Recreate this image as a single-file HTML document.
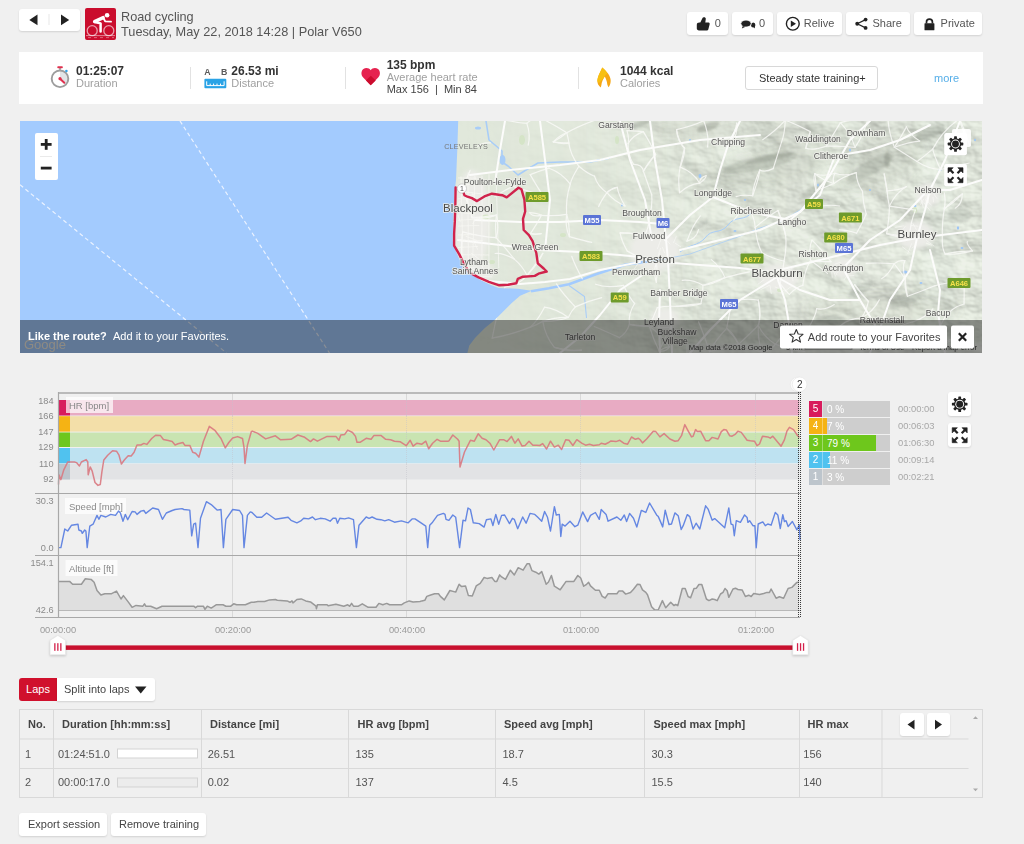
<!DOCTYPE html>
<html><head><meta charset="utf-8">
<style>
*{box-sizing:border-box;margin:0;padding:0}
html,body{width:1024px;height:844px;overflow:hidden;background:#f0f0f0;font-family:"Liberation Sans",sans-serif;color:#333}
.abs{position:absolute}
.btn{position:absolute;background:#fff;border-radius:3px;box-shadow:0 1px 2px rgba(0,0,0,.13);font-size:12px;color:#444;white-space:nowrap}
.sep{position:absolute;width:1px;background:#ddd}
.val{position:absolute;font-size:13px;font-weight:bold;color:#333;white-space:nowrap}
.lbl{position:absolute;font-size:11px;color:#999;white-space:nowrap}
.zt{position:absolute;left:809px;width:81px;height:16px;background:#cecece}
.zt .n{position:absolute;left:0;top:0;width:13px;height:16px;color:#fff;font-size:10px;line-height:16px;text-align:center}
.zt .b{position:absolute;left:13px;top:0;height:16px}
.zt .p{position:absolute;left:18px;top:.5px;color:#fff;font-size:10px;line-height:16px;white-space:nowrap}
.zt .s{position:absolute;left:13px;top:0;width:1px;height:16px;background:rgba(255,255,255,.35)}
.ztime{position:absolute;left:898px;font-size:9.4px;color:#a8a8a8;line-height:16px}
table{position:absolute;border-collapse:collapse;font-size:11px;color:#444}
</style></head>
<body>
<svg width="0" height="0" style="position:absolute">
<defs>
<g id="gear">
<g fill="#222">
<rect x="-1.4" y="-7.8" width="2.8" height="3.6" rx=".6"/>
<rect x="-1.4" y="-7.8" width="2.8" height="3.6" rx=".6" transform="rotate(45)"/>
<rect x="-1.4" y="-7.8" width="2.8" height="3.6" rx=".6" transform="rotate(90)"/>
<rect x="-1.4" y="-7.8" width="2.8" height="3.6" rx=".6" transform="rotate(135)"/>
<rect x="-1.4" y="-7.8" width="2.8" height="3.6" rx=".6" transform="rotate(180)"/>
<rect x="-1.4" y="-7.8" width="2.8" height="3.6" rx=".6" transform="rotate(225)"/>
<rect x="-1.4" y="-7.8" width="2.8" height="3.6" rx=".6" transform="rotate(270)"/>
<rect x="-1.4" y="-7.8" width="2.8" height="3.6" rx=".6" transform="rotate(315)"/>
<circle r="5.7"/>
</g>
<circle r="4.4" fill="#fff"/>
<circle r="3.45" fill="#222"/>
</g>
<g id="expand" fill="#222" stroke="#222">
<g id="ar"><path d="M-7.5,-7.5 L-2.3,-7.5 L-7.5,-2.3 Z" stroke-width=".6" stroke-linejoin="round"/><line x1="-5.8" y1="-5.8" x2="-2" y2="-2" stroke-width="2.2"/></g>
<use href="#ar" transform="rotate(90)"/>
<use href="#ar" transform="rotate(180)"/>
<use href="#ar" transform="rotate(270)"/>
</g>
</defs>
</svg>
<!-- header -->
<div class="btn" style="left:19px;top:9px;width:61px;height:22px"></div>
<div class="abs" style="left:85px;top:8.3px;width:31.2px;height:31.4px;background:#ca0d2d;border-radius:2px"></div>
<div class="btn" style="left:687px;top:12px;width:41px;height:23px"></div>
<div class="btn" style="left:732px;top:12px;width:41px;height:23px"></div>
<div class="btn" style="left:777px;top:12px;width:65px;height:23px"></div>
<div class="btn" style="left:846px;top:12px;width:64px;height:23px"></div>
<div class="btn" style="left:914px;top:12px;width:68px;height:23px"></div>
<div class="abs" style="left:19px;top:52px;width:964px;height:52px;background:#fff"></div>
<div class="abs" style="left:745px;top:66px;width:133px;height:24px;border:1px solid #d8d8d8;border-radius:3px;background:#fff"></div>
<svg class="abs" style="left:0;top:0" width="1024" height="110">
<!-- nav arrows -->
<path d="M29.3,19.9 L37.5,14.6 L37.5,25.2 Z" fill="#222"/>
<rect x="48.5" y="14" width="1" height="11" fill="#e8e8e8"/>
<path d="M69.2,19.9 L61,14.6 L61,25.2 Z" fill="#222"/>
<!-- sport icon -->
<g transform="translate(85,8)">
<circle cx="7.2" cy="22.7" r="5" fill="none" stroke="#fff" stroke-width="1.3" opacity=".6"/>
<circle cx="23.8" cy="22.7" r="5" fill="none" stroke="#fff" stroke-width="1.3" opacity=".6"/>
<circle cx="22.1" cy="7.2" r="2.3" fill="#fff"/>
<path d="M9.6,13.6 L18.2,9.6" stroke="#fff" stroke-width="3.4" stroke-linecap="round"/>
<path d="M18.4,10 L20.2,13.4 L26,13.6" fill="none" stroke="#fff" stroke-width="1.9" stroke-linecap="round" stroke-linejoin="round"/>
<path d="M9.8,14 L15.6,15.4 L15.6,23.4" fill="none" stroke="#fff" stroke-width="2.5" stroke-linecap="round" stroke-linejoin="round"/>
<rect x="1" y="27.2" width="29" height=".9" fill="#fff" opacity=".55"/>
<path d="M3,29.6 h3 M9,29.6 h3 M15,29.6 h3 M21,29.6 h3 M27,29.6 h2" stroke="#fff" stroke-width=".8" opacity=".45"/>
</g>
<g font-family="Liberation Sans" fill="#555">
<text x="121" y="20.8" font-size="12.7">Road cycling</text>
<text x="121" y="36.4" font-size="12.75">Tuesday, May 22, 2018 14:28 | Polar V650</text>
</g>
<!-- like -->
<path d="M696.8,24.8 C696.8,23.4 697.8,22.6 699.3,22.6 L700.3,22.6 L702.4,18.2 C703,16.8 705.9,16.8 705.8,18.8 L705.3,22.4 L708.6,22.4 C709.6,22.4 709.9,23.4 709.6,24.4 L708.3,29.5 C708.1,30.1 707.6,30.4 706.9,30.4 L699,30.4 C697.6,30.4 696.8,29.5 696.8,28.5 Z" fill="#222"/>
<!-- comment -->
<ellipse cx="753.2" cy="25" rx="2.2" ry="2.6" fill="#222"/><path d="M753.5,27 L755,28.6 L754.8,26 Z" fill="#222"/>
<ellipse cx="746" cy="23.6" rx="5.2" ry="3.5" fill="#222" stroke="#fff" stroke-width=".8"/><path d="M742.8,26 L741.8,28.4 L745.5,26.8 Z" fill="#222"/>
<!-- relive -->
<circle cx="792.8" cy="23.75" r="6.4" fill="none" stroke="#222" stroke-width="1.4"/><path d="M790.8,20.4 L796,23.75 L790.8,27.1 Z" fill="#222"/>
<!-- share -->
<path d="M857.2,23.75 L865.6,19.6 M857.2,23.75 L865.6,27.9" stroke="#222" stroke-width="1.2"/>
<circle cx="857.2" cy="23.75" r="1.9" fill="#222"/><circle cx="865.6" cy="19.6" r="1.9" fill="#222"/><circle cx="865.6" cy="27.9" r="1.9" fill="#222"/>
<!-- lock -->
<rect x="924.5" y="23.3" width="9.9" height="6.9" rx=".5" fill="#222"/><path d="M926.5,23.5 L926.5,21.9 C926.5,18.3 932.4,18.3 932.4,21.9 L932.4,23.5" fill="none" stroke="#222" stroke-width="1.7"/>
<g font-family="Liberation Sans" font-size="11" fill="#555">
<text x="714.7" y="27.3">0</text><text x="759" y="27.3">0</text>
<text x="803.7" y="27.3">Relive</text><text x="872.5" y="27.3">Share</text><text x="940.6" y="27.3">Private</text>
</g>
<!-- summary -->
<rect x="190" y="67" width="1" height="22" fill="#e2e2e2"/>
<rect x="345" y="67" width="1" height="22" fill="#e2e2e2"/>
<rect x="578" y="67" width="1" height="22" fill="#e2e2e2"/>
<!-- stopwatch -->
<path d="M60,78.8 L60,70.4 A8.4,8.4 0 0 1 65.9,84.7 Z" fill="#e2e4e6"/>
<circle cx="60" cy="78.8" r="8.3" fill="none" stroke="#9d9d9d" stroke-width="1.9"/>
<rect x="59" y="68" width="2" height="2.3" fill="#aaa"/>
<rect x="57.3" y="66.3" width="5.5" height="2" rx=".8" fill="#e0304e"/>
<circle cx="66.4" cy="71" r="1.3" fill="#36a6ea"/>
<path d="M60,78.8 L64.3,82.8" stroke="#e0304e" stroke-width="2" stroke-linecap="round"/>
<circle cx="60" cy="78.7" r="1.6" fill="#e0304e"/>
<!-- distance icon -->
<g font-family="Liberation Sans" font-size="8.8" font-weight="bold" fill="#5a5a5a"><text x="204.2" y="74.5">A</text><text x="221" y="74.5">B</text></g>
<rect x="204.4" y="78.7" width="21.9" height="9.6" rx="1" fill="#2aa3e6"/>
<path d="M206.7,81.3 L206.7,85.6 L224.1,85.6 L224.1,81.3 M210.2,85.6 L210.2,83.6 M213.6,85.6 L213.6,83.6 M217,85.6 L217,83.6 M220.5,85.6 L220.5,83.6" fill="none" stroke="#fff" stroke-width="1"/>
<!-- heart -->
<path d="M370.7,85.3 L363.2,77.6 C360.8,75.1 360.9,71 363.4,69 C365.9,67.1 369.2,67.9 370.7,70.3 C372.2,67.9 375.5,67.1 378,69 C380.5,71 380.6,75.1 378.2,77.6 Z" fill="#e6224f"/>
<path d="M370.7,85.3 L366,80.4 L370.8,75.8 L375.7,80.4 Z" fill="#cb0c2e"/>
<!-- flame -->
<path d="M602.2,67.5 C606.2,71 610.9,75.8 610.7,81 C610.6,84 609.6,86 608.4,87.3 L607.3,84.5 C607,81.2 605.8,78.6 604.7,76.6 C603.3,79 601.6,82 601.4,85 L600.8,87.4 C598.4,85.6 597.3,83.5 597.4,81 C597.5,76 600.6,72 602.2,67.5 Z" fill="#f6a715"/>
<path d="M602.2,67.5 C604.5,69.5 606.5,71.5 607.5,73.5 C606,74.5 605.2,75.5 604.7,76.6 C603.3,79 601.2,81 599,83 C598,82 597.3,81.5 597.4,81 C597.5,76 600.6,72 602.2,67.5 Z" fill="#f7c012"/>
<g font-family="Liberation Sans" font-weight="bold" font-size="12" fill="#333">
<text x="76" y="75">01:25:07</text>
<text x="231.3" y="75">26.53 mi</text>
<text x="386.7" y="69.2">135 bpm</text>
<text x="620" y="75">1044 kcal</text>
</g>
<g font-family="Liberation Sans" font-size="11" fill="#a0a0a0">
<text x="76" y="86.8">Duration</text>
<text x="231.3" y="86.8">Distance</text>
<text x="386.7" y="81.4">Average heart rate</text>
<text x="620" y="86.8">Calories</text>
</g>
<text x="386.7" y="93" font-family="Liberation Sans" font-size="11" fill="#444" xml:space="preserve">Max 156  |  Min 84</text>
<text x="759" y="81.9" font-family="Liberation Sans" font-size="11" fill="#333">Steady state training+</text>
<text x="934" y="81.6" font-family="Liberation Sans" font-size="11" fill="#55aee8">more</text>
</svg>

<!-- map -->
<svg class="abs" style="left:20px;top:121px" width="962" height="232" viewBox="20 121 962 232">
<defs>
<filter id="bl" x="-50%" y="-50%" width="200%" height="200%"><feGaussianBlur stdDeviation="5"/></filter>
<filter id="bl2" x="-50%" y="-50%" width="200%" height="200%"><feGaussianBlur stdDeviation="2.5"/></filter>
<filter id="bl1" x="-50%" y="-50%" width="200%" height="200%"><feGaussianBlur stdDeviation="1.2"/></filter>
<filter id="terrain" x="0" y="0" width="100%" height="100%" color-interpolation-filters="sRGB">
  <feTurbulence type="fractalNoise" baseFrequency="0.014 0.022" numOctaves="5" seed="7" result="noise"/>
  <feDiffuseLighting in="noise" surfaceScale="7" lighting-color="#f3f8f0" diffuseConstant="1.12" result="light">
    <feDistantLight azimuth="315" elevation="52"/>
  </feDiffuseLighting>
</filter>
<linearGradient id="tg" x1="0" y1="0" x2="1" y2="0">
<stop offset="0" stop-color="#fff" stop-opacity="0"/><stop offset=".25" stop-color="#fff" stop-opacity=".15"/><stop offset=".5" stop-color="#fff" stop-opacity=".6"/><stop offset="1" stop-color="#fff" stop-opacity=".8"/>
</linearGradient>
<mask id="tm"><rect x="450" y="121" width="532" height="232" fill="url(#tg)"/></mask>
</defs>
<rect x="20" y="121" width="962" height="232" fill="#a3cbfe"/>
<g stroke="#eaf2ff" stroke-width="1.2" stroke-dasharray="4 3"><line x1="20" y1="184.8" x2="226.5" y2="353"/><line x1="180" y1="121" x2="329.5" y2="353"/></g>
<polygon points="458.2,121 457.3,150 456,180 454.3,195 453.5,215 452.7,240 453.7,245.9 459.5,259.5 466.4,269.3 477.1,278.1 490.8,284.9 498.6,287.9 518.1,288.8 531.8,290.8 520.1,295.7 512.3,302.5 502.5,312.3 494.7,320 484.9,327.9 475.2,337.7 469.3,345.5 467.3,353.3 982,353 982,121" fill="#e1e8db"/>
<clipPath id="lc"><polygon points="458.2,121 457.3,150 456,180 454.3,195 453.5,215 452.7,240 453.7,245.9 459.5,259.5 466.4,269.3 477.1,278.1 490.8,284.9 498.6,287.9 518.1,288.8 531.8,290.8 520.1,295.7 512.3,302.5 502.5,312.3 494.7,320 484.9,327.9 475.2,337.7 469.3,345.5 467.3,353.3 982,353 982,121"/></clipPath>
<g clip-path="url(#lc)"><rect x="450" y="121" width="532" height="232" filter="url(#terrain)" mask="url(#tm)" style="mix-blend-mode:multiply" opacity=".5"/></g>
<g clip-path="url(#lc)"><g filter="url(#bl2)" fill="#ecece8"><ellipse cx="472" cy="220" rx="18" ry="50"/><ellipse cx="478" cy="272" rx="16" ry="10"/><ellipse cx="655" cy="250" rx="25" ry="22"/><ellipse cx="778" cy="278" rx="20" ry="14"/><ellipse cx="915" cy="235" rx="18" ry="14"/><ellipse cx="928" cy="195" rx="12" ry="12"/><ellipse cx="843" cy="268" rx="14" ry="10"/><ellipse cx="665" cy="320" rx="14" ry="12"/></g></g>
<g filter="url(#bl)" fill="#7c8276"><ellipse cx="770" cy="168" rx="60" ry="20" transform="rotate(-10 770 168)" opacity=".12"/><ellipse cx="880" cy="165" rx="45" ry="22" transform="rotate(-25 880 165)" opacity=".12"/><ellipse cx="700" cy="130" rx="50" ry="12" opacity=".1"/><ellipse cx="880" cy="310" rx="80" ry="18" opacity=".08"/></g>
<g filter="url(#bl1)">
<ellipse cx="708" cy="127" rx="12" ry="4" transform="rotate(-20 708 127)" fill="#7c8276" opacity="0.35"/>
<ellipse cx="760" cy="163" rx="38" ry="7" transform="rotate(-12 760 163)" fill="#7c8276" opacity="0.25"/>
<ellipse cx="770" cy="158" rx="25" ry="3" transform="rotate(-12 770 158)" fill="#7c8276" opacity="0.3"/>
<ellipse cx="870" cy="168" rx="26" ry="7" transform="rotate(-28 870 168)" fill="#7c8276" opacity="0.25"/>
<ellipse cx="887" cy="160" rx="3" ry="8" transform="rotate(0 887 160)" fill="#7c8276" opacity="0.4"/>
<ellipse cx="640" cy="124" rx="10" ry="3" transform="rotate(-20 640 124)" fill="#7c8276" opacity="0.3"/>
<ellipse cx="930" cy="133" rx="15" ry="6" transform="rotate(-20 930 133)" fill="#7c8276" opacity="0.25"/>
<ellipse cx="815" cy="190" rx="18" ry="4" transform="rotate(-30 815 190)" fill="#7c8276" opacity="0.25"/>
<ellipse cx="905" cy="300" rx="20" ry="6" transform="rotate(-20 905 300)" fill="#7c8276" opacity="0.2"/>
<ellipse cx="860" cy="290" rx="14" ry="5" transform="rotate(-30 860 290)" fill="#7c8276" opacity="0.2"/>
<ellipse cx="700" cy="225" rx="10" ry="3" transform="rotate(-30 700 225)" fill="#7c8276" opacity="0.2"/>
<ellipse cx="960" cy="215" rx="12" ry="8" transform="rotate(0 960 215)" fill="#7c8276" opacity="0.2"/>
<ellipse cx="830" cy="320" rx="15" ry="5" transform="rotate(0 830 320)" fill="#7c8276" opacity="0.2"/>
</g>
<g fill="#d2e4c2" opacity=".8"><ellipse cx="486" cy="217" rx="4" ry="2.5"/><ellipse cx="522" cy="140" rx="3" ry="5"/><ellipse cx="563" cy="235" rx="3" ry="2"/><ellipse cx="492" cy="262" rx="3" ry="2"/><ellipse cx="617" cy="140" rx="2" ry="4"/><ellipse cx="780" cy="290" rx="3" ry="2"/><ellipse cx="915" cy="210" rx="2" ry="3"/></g>
<ellipse cx="915" cy="206" rx="1.5" ry="1" fill="#9fc6f5"/>
<ellipse cx="958" cy="228" rx="1.2" ry="1.8" fill="#9fc6f5"/>
<ellipse cx="962" cy="248" rx="1.5" ry="1" fill="#9fc6f5"/>
<ellipse cx="905" cy="272" rx="2.5" ry="1.5" fill="#9fc6f5"/>
<ellipse cx="921" cy="283" rx="1.5" ry="1" fill="#9fc6f5"/>
<ellipse cx="700" cy="176" rx="1.5" ry="2" fill="#9fc6f5"/>
<ellipse cx="735" cy="231" rx="1.5" ry="1" fill="#9fc6f5"/>
<ellipse cx="818" cy="185" rx="1" ry="1.5" fill="#9fc6f5"/>
<ellipse cx="760" cy="254" rx="1.2" ry="1" fill="#9fc6f5"/>
<ellipse cx="870" cy="190" rx="1" ry="1" fill="#9fc6f5"/>
<ellipse cx="940" cy="170" rx="1.5" ry="1" fill="#9fc6f5"/>
<ellipse cx="690" cy="140" rx="1" ry="1" fill="#9fc6f5"/>
<ellipse cx="598" cy="160" rx="1.5" ry="1" fill="#9fc6f5"/>
<ellipse cx="622" cy="205" rx="1" ry="1.5" fill="#9fc6f5"/>
<ellipse cx="745" cy="200" rx="1.2" ry="1" fill="#9fc6f5"/>
<ellipse cx="850" cy="150" rx="1" ry="1.5" fill="#9fc6f5"/>
<ellipse cx="975" cy="140" rx="1" ry="1.2" fill="#9fc6f5"/>
<path d="M752,212 C745,222 735,215 728,225 C720,235 712,228 705,238 C698,246 690,244 680,252" fill="none" stroke="#a8cdf8" stroke-width="1"/>
<path d="M486,121 L489,140 L495,145 L502,151 L502,162 L508,166 L518,175 L526,170 L538,163 L560,162 L590,162 L610,158" fill="none" stroke="#a8cdf8" stroke-width="1.6" stroke-linejoin="round"/>
<ellipse cx="502.5" cy="160" rx="3" ry="5" fill="#a8cdf8"/><ellipse cx="478" cy="128" rx="3" ry="1.5" fill="#a8cdf8"/>
<path d="M531,291.3 L549,288.3 L569,284.3 L596,274.3 L625,264.8 L642,262.3 L660,260" fill="none" stroke="#a3cbfe" stroke-width="2.6" stroke-linejoin="round"/>
<path d="M569,285.5 L584.5,296.6 L586.5,318" fill="none" stroke="#a8cdf8" stroke-width="1.1"/>
<path d="M660,260 L690,254 L715,245 L735,238 L760,228 L780,222 L800,210 L815,195" fill="none" stroke="#b0d0f2" stroke-width=".9"/>
<g fill="none" stroke="#fcfcfb" stroke-width="2" stroke-linejoin="round" stroke-linecap="round" clip-path="url(#lc)">
<path d="M475,220 L520,222 L560,222 L600,220 L640,222 L662,224"/>
<path d="M650,121 L655,160 L662,200 L665,230 L668,260 L670,300 L672,353"/>
<path d="M620,121 L630,160 L645,200 L652,240"/>
<path d="M458,240 L500,245 L540,250 L580,252 L620,255 L650,258"/>
<path d="M470,175 L510,170 L560,165 L600,160 L640,150 L700,140 L760,135"/>
<path d="M660,262 L700,265 L740,268 L770,272 L800,265 L840,255 L880,245 L917,238 L982,230"/>
<path d="M665,240 L690,215 L713,197"/>
<path d="M713,197 L750,212 L790,220 L820,195 L835,156"/>
<path d="M680,250 L720,240 L760,230 L800,212 L830,175 L850,140 L870,121"/>
<path d="M917,238 L925,210 L930,190 L945,160 L960,121"/>
<path d="M777,277 L785,300 L790,330 L792,353"/>
<path d="M917,238 L910,270 L890,300 L882,323 L870,353"/>
<path d="M930,250 L940,290 L938,313 L945,353"/>
<path d="M843,268 L860,300 L875,325"/>
<path d="M660,290 L659,322 L660,353"/>
<path d="M650,270 L620,290 L600,315 L580,337 L560,353"/>
<path d="M777,277 L740,300 L710,330 L690,353"/>
<path d="M478,280 L520,284 L545,282 L570,279 L600,270 L640,262"/>
<path d="M713,197 L720,170 L728,145 L740,121"/>
<path d="M835,156 L870,150 L900,140 L930,125"/>
<path d="M540,121 L545,160 L550,200 L545,250"/>
<path d="M495,183 L500,150 L505,121"/>
<path d="M843,268 L870,240 L900,220 L928,190"/>
<path d="M777,277 L800,290 L830,300 L860,300"/>
<path d="M982,180 L950,190 L928,190"/>
</g>
<g fill="none" stroke="#fbfbf9" stroke-width="1.2" opacity=".8" stroke-linecap="round" clip-path="url(#lc)">
<path d="M477.6,146.5 Q481.5,142.3 490.4,142.9"/>
<path d="M470.1,170.4 Q463.7,184.4 464.3,191.2"/>
<path d="M464.3,191.2 Q468.1,204.6 472.3,217.7"/>
<path d="M472.3,217.7 Q485.9,219.2 496.3,215.2"/>
<path d="M472.3,217.7 Q468.0,206.4 464.3,191.2"/>
<path d="M462.7,231.9 Q460.0,247.0 462.6,262.0"/>
<path d="M462.7,231.9 Q482.5,237.1 496.0,237.6"/>
<path d="M496.5,118.0 Q514.9,122.6 526.8,123.4"/>
<path d="M496.3,215.2 Q494.9,226.2 496.0,237.6"/>
<path d="M496.3,215.2 Q483.2,217.6 472.3,217.7"/>
<path d="M496.0,237.6 Q499.7,227.8 496.3,215.2"/>
<path d="M496.0,237.6 Q506.4,248.9 514.3,259.1"/>
<path d="M492.2,338.1 Q512.2,334.5 530.4,327.1"/>
<path d="M492.2,338.1 Q497.8,308.9 505.0,286.9"/>
<path d="M526.8,123.4 Q532.8,117.5 540.8,118.0"/>
<path d="M526.8,123.4 Q530.8,134.7 528.2,145.2"/>
<path d="M530.2,174.6 Q537.1,186.7 542.4,194.7"/>
<path d="M513.0,186.4 Q507.4,188.7 494.9,196.5"/>
<path d="M513.0,186.4 Q527.7,191.4 542.4,194.7"/>
<path d="M529.4,212.5 Q538.9,213.3 541.4,215.3"/>
<path d="M530.6,233.4 Q534.2,234.8 541.1,233.7"/>
<path d="M530.6,233.4 Q537.7,222.7 541.4,215.3"/>
<path d="M514.3,259.1 Q502.7,252.6 495.2,253.5"/>
<path d="M514.3,259.1 Q522.7,266.3 527.0,275.3"/>
<path d="M527.0,275.3 Q519.9,284.7 505.0,286.9"/>
<path d="M527.0,275.3 Q538.2,263.8 542.8,253.3"/>
<path d="M530.4,327.1 Q537.6,320.6 544.5,307.2"/>
<path d="M540.8,118.0 Q554.8,125.0 566.8,132.8"/>
<path d="M553.3,141.8 Q557.5,142.7 568.8,143.1"/>
<path d="M553.3,141.8 Q559.6,138.7 566.8,132.8"/>
<path d="M549.1,168.2 Q540.3,170.7 530.2,174.6"/>
<path d="M541.4,215.3 Q532.3,217.1 529.4,212.5"/>
<path d="M541.1,233.7 Q534.0,235.0 530.6,233.4"/>
<path d="M542.8,253.3 Q532.9,268.2 527.0,275.3"/>
<path d="M556.5,283.9 Q562.4,293.5 575.3,306.9"/>
<path d="M544.5,307.2 Q556.7,308.9 568.3,317.5"/>
<path d="M542.8,321.3 Q538.0,324.6 530.4,327.1"/>
<path d="M542.8,321.3 Q555.4,317.1 568.3,317.5"/>
<path d="M554.4,347.3 Q569.8,351.4 581.4,350.1"/>
<path d="M554.4,347.3 Q545.5,336.8 542.8,321.3"/>
<path d="M566.8,132.8 Q559.5,135.4 553.3,141.8"/>
<path d="M568.8,143.1 Q569.1,141.9 566.8,132.8"/>
<path d="M568.8,143.1 Q561.5,144.5 553.3,141.8"/>
<path d="M578.9,166.3 Q571.4,178.2 570.3,184.2"/>
<path d="M578.9,166.3 Q570.5,155.2 568.8,143.1"/>
<path d="M570.3,184.2 Q561.9,172.8 549.1,168.2"/>
<path d="M566.6,214.3 Q569.3,222.1 569.4,236.6"/>
<path d="M566.6,214.3 Q555.8,216.4 541.4,215.3"/>
<path d="M566.6,214.3 Q565.6,198.1 570.3,184.2"/>
<path d="M569.4,236.6 Q564.9,227.1 566.6,214.3"/>
<path d="M582.3,278.7 Q575.5,266.7 571.7,256.3"/>
<path d="M575.3,306.9 Q587.4,301.2 601.7,297.7"/>
<path d="M568.3,317.5 Q571.0,311.3 575.3,306.9"/>
<path d="M568.3,317.5 Q556.1,321.8 542.8,321.3"/>
<path d="M581.4,350.1 Q569.9,351.7 554.4,347.3"/>
<path d="M595.5,120.0 Q577.3,126.6 566.8,132.8"/>
<path d="M594.5,176.2 Q587.1,173.5 578.9,166.3"/>
<path d="M594.5,176.2 Q597.4,186.3 606.9,192.7"/>
<path d="M606.9,192.7 Q613.2,187.1 617.3,187.3"/>
<path d="M598.6,206.7 Q600.5,201.8 606.9,192.7"/>
<path d="M591.7,242.4 Q584.3,240.9 569.4,236.6"/>
<path d="M628.1,143.5 Q629.5,141.0 627.1,130.6"/>
<path d="M628.1,143.5 Q633.0,135.2 643.3,131.6"/>
<path d="M633.5,164.3 Q642.2,164.2 643.4,171.2"/>
<path d="M633.5,164.3 Q627.7,155.1 628.1,143.5"/>
<path d="M617.3,187.3 Q608.6,189.7 606.9,192.7"/>
<path d="M625.0,206.0 Q618.0,194.1 617.3,187.3"/>
<path d="M625.0,206.0 Q613.8,201.0 606.9,192.7"/>
<path d="M620.2,232.9 Q621.2,240.3 627.3,251.1"/>
<path d="M620.2,232.9 Q634.3,232.8 644.4,235.7"/>
<path d="M627.3,251.1 Q644.9,260.6 656.3,263.4"/>
<path d="M623.5,285.3 Q629.5,298.0 634.6,303.5"/>
<path d="M623.5,285.3 Q606.0,288.3 595.6,284.2"/>
<path d="M629.4,324.4 Q643.3,326.4 649.3,326.0"/>
<path d="M629.4,324.4 Q628.1,313.7 634.6,303.5"/>
<path d="M619.5,337.6 Q626.9,332.7 629.4,324.4"/>
<path d="M619.5,337.6 Q604.1,330.6 594.2,326.5"/>
<path d="M643.3,131.6 Q638.1,131.2 627.1,130.6"/>
<path d="M655.6,154.4 Q649.8,160.0 643.4,171.2"/>
<path d="M655.6,154.4 Q652.0,145.8 643.3,131.6"/>
<path d="M643.4,171.2 Q647.7,164.5 655.6,154.4"/>
<path d="M643.4,171.2 Q647.4,182.7 651.7,194.7"/>
<path d="M648.7,221.0 Q648.9,227.7 644.4,235.7"/>
<path d="M648.7,221.0 Q652.8,205.5 651.7,194.7"/>
<path d="M644.4,235.7 Q634.9,232.8 620.2,232.9"/>
<path d="M656.3,263.4 Q652.9,271.3 656.3,282.3"/>
<path d="M656.3,282.3 Q657.8,269.7 656.3,263.4"/>
<path d="M649.3,326.0 Q638.4,326.8 629.4,324.4"/>
<path d="M649.3,326.0 Q653.8,316.5 657.3,307.6"/>
<path d="M649.3,326.0 Q663.9,328.9 670.5,327.0"/>
<path d="M659.2,350.9 Q665.3,347.1 669.5,346.6"/>
<path d="M659.2,350.9 Q665.2,337.4 670.5,327.0"/>
<path d="M659.2,350.9 Q653.4,339.8 649.3,326.0"/>
<path d="M676.5,129.6 Q678.1,140.8 684.5,148.2"/>
<path d="M676.5,129.6 Q693.6,125.7 703.7,120.7"/>
<path d="M684.5,148.2 Q685.0,154.4 680.2,167.1"/>
<path d="M684.5,148.2 Q677.3,140.3 676.5,129.6"/>
<path d="M680.2,167.1 Q681.6,160.3 684.5,148.2"/>
<path d="M680.2,167.1 Q677.7,177.2 679.5,192.7"/>
<path d="M679.5,192.7 Q688.8,184.5 699.6,183.2"/>
<path d="M686.9,241.1 Q692.9,224.6 700.4,215.9"/>
<path d="M676.9,306.4 Q665.8,305.8 657.3,307.6"/>
<path d="M676.9,306.4 Q687.9,305.1 700.9,303.7"/>
<path d="M669.5,346.6 Q666.5,352.0 659.2,350.9"/>
<path d="M669.5,346.6 Q659.4,333.4 649.3,326.0"/>
<path d="M707.6,147.0 Q709.2,134.8 703.7,120.7"/>
<path d="M706.1,175.7 Q699.5,177.4 699.6,183.2"/>
<path d="M699.6,183.2 Q706.3,178.3 706.1,175.7"/>
<path d="M699.6,183.2 Q693.7,172.2 680.2,167.1"/>
<path d="M698.6,229.7 Q696.0,239.3 686.9,241.1"/>
<path d="M711.3,259.6 Q720.7,266.9 724.9,277.6"/>
<path d="M703.0,285.3 Q702.5,297.1 700.9,303.7"/>
<path d="M703.0,285.3 Q693.0,279.4 682.2,280.3"/>
<path d="M703.0,285.3 Q711.3,285.3 724.9,277.6"/>
<path d="M700.9,303.7 Q690.3,306.9 676.9,306.4"/>
<path d="M709.5,351.6 Q715.7,339.8 726.7,328.4"/>
<path d="M709.5,351.6 Q723.2,348.5 738.7,344.2"/>
<path d="M709.5,351.6 Q704.2,334.9 698.6,321.9"/>
<path d="M736.8,123.2 Q735.3,129.9 731.5,144.1"/>
<path d="M731.5,144.1 Q737.8,134.4 736.8,123.2"/>
<path d="M724.9,277.6 Q710.3,283.3 703.0,285.3"/>
<path d="M726.7,328.4 Q733.4,332.9 738.7,344.2"/>
<path d="M726.7,328.4 Q729.0,314.7 732.3,300.9"/>
<path d="M738.7,344.2 Q734.2,336.5 726.7,328.4"/>
<path d="M738.7,344.2 Q748.6,347.5 761.5,352.3"/>
<path d="M738.7,344.2 Q745.1,338.2 758.3,325.5"/>
<path d="M762.7,139.7 Q776.0,130.5 785.3,120.2"/>
<path d="M759.8,170.1 Q758.5,179.9 752.6,195.7"/>
<path d="M752.6,195.7 Q742.3,194.5 736.1,196.6"/>
<path d="M752.6,195.7 Q752.7,186.1 759.8,170.1"/>
<path d="M747.3,207.2 Q741.3,210.1 733.8,220.2"/>
<path d="M755.2,227.4 Q754.5,215.7 747.3,207.2"/>
<path d="M761.9,252.8 Q756.9,243.5 755.2,227.4"/>
<path d="M749.5,271.8 Q739.9,273.5 724.9,277.6"/>
<path d="M758.3,300.1 Q761.4,316.8 758.3,325.5"/>
<path d="M758.3,300.1 Q746.4,298.1 732.3,300.9"/>
<path d="M758.3,325.5 Q763.7,336.7 775.3,344.3"/>
<path d="M758.3,325.5 Q761.5,315.8 758.3,300.1"/>
<path d="M761.5,352.3 Q770.0,351.8 775.3,344.3"/>
<path d="M761.5,352.3 Q757.7,337.4 758.3,325.5"/>
<path d="M785.3,120.2 Q795.2,123.8 810.3,131.6"/>
<path d="M781.6,141.9 Q784.7,134.1 785.3,120.2"/>
<path d="M773.2,168.6 Q764.9,172.8 759.8,170.1"/>
<path d="M773.2,168.6 Q778.5,151.9 781.6,141.9"/>
<path d="M777.9,210.5 Q782.5,221.2 785.6,235.3"/>
<path d="M777.9,210.5 Q769.0,215.7 755.2,227.4"/>
<path d="M785.6,235.3 Q786.9,246.2 784.1,261.1"/>
<path d="M785.6,235.3 Q782.1,220.4 777.9,210.5"/>
<path d="M784.1,261.1 Q772.7,259.0 761.9,252.8"/>
<path d="M780.1,283.7 Q782.5,273.5 784.1,261.1"/>
<path d="M789.3,294.4 Q786.0,291.3 780.1,283.7"/>
<path d="M775.3,344.3 Q784.8,332.7 789.8,326.6"/>
<path d="M810.3,131.6 Q807.5,142.0 805.8,148.1"/>
<path d="M805.8,148.1 Q807.9,137.6 810.3,131.6"/>
<path d="M814.8,173.7 Q816.2,183.8 816.0,190.4"/>
<path d="M816.0,190.4 Q812.6,178.2 814.8,173.7"/>
<path d="M810.7,208.3 Q827.5,203.7 839.6,206.0"/>
<path d="M810.5,260.5 Q808.4,248.8 812.0,240.1"/>
<path d="M810.5,260.5 Q819.3,262.0 831.0,261.6"/>
<path d="M802.8,285.4 Q796.8,286.6 789.3,294.4"/>
<path d="M802.8,285.4 Q804.7,270.2 810.5,260.5"/>
<path d="M808.7,327.7 Q798.5,326.0 789.8,326.6"/>
<path d="M808.7,327.7 Q816.4,314.5 816.6,308.6"/>
<path d="M804.8,351.6 Q789.7,349.9 775.3,344.3"/>
<path d="M840.4,122.6 Q831.4,137.4 826.5,146.1"/>
<path d="M840.4,122.6 Q853.4,118.9 868.1,118.4"/>
<path d="M826.5,146.1 Q812.4,151.0 805.8,148.1"/>
<path d="M834.9,173.3 Q832.4,178.8 833.8,183.5"/>
<path d="M834.9,173.3 Q824.6,177.0 814.8,173.7"/>
<path d="M834.9,173.3 Q844.3,176.8 856.2,172.7"/>
<path d="M833.8,183.5 Q824.1,188.1 816.0,190.4"/>
<path d="M833.8,183.5 Q823.0,180.2 814.8,173.7"/>
<path d="M831.0,261.6 Q820.3,248.3 812.0,240.1"/>
<path d="M827.5,273.4 Q816.7,264.6 810.5,260.5"/>
<path d="M834.3,304.6 Q825.1,310.6 816.6,308.6"/>
<path d="M840.1,326.0 Q840.1,332.0 842.0,344.9"/>
<path d="M840.1,326.0 Q848.9,318.3 861.3,318.2"/>
<path d="M842.0,344.9 Q849.4,344.1 860.6,345.1"/>
<path d="M868.1,118.4 Q876.9,115.1 887.9,117.4"/>
<path d="M868.1,118.4 Q863.7,134.7 855.0,147.4"/>
<path d="M855.0,147.4 Q839.3,145.8 826.5,146.1"/>
<path d="M855.0,147.4 Q850.8,133.6 840.4,122.6"/>
<path d="M856.2,172.7 Q844.2,176.0 833.8,183.5"/>
<path d="M862.5,191.4 Q856.6,182.8 856.2,172.7"/>
<path d="M862.5,191.4 Q862.8,202.1 866.2,214.0"/>
<path d="M866.2,214.0 Q863.1,221.6 856.6,233.1"/>
<path d="M856.6,233.1 Q845.6,229.7 839.4,229.8"/>
<path d="M866.2,263.4 Q878.6,262.4 894.2,263.8"/>
<path d="M854.7,284.6 Q857.9,289.2 868.4,301.4"/>
<path d="M868.4,301.4 Q863.0,296.4 854.7,284.6"/>
<path d="M861.3,318.2 Q866.4,311.1 868.4,301.4"/>
<path d="M860.6,345.1 Q852.4,341.7 842.0,344.9"/>
<path d="M887.9,117.4 Q877.1,116.5 868.1,118.4"/>
<path d="M887.9,117.4 Q888.4,131.6 894.4,147.3"/>
<path d="M894.4,147.3 Q908.4,142.1 919.7,141.1"/>
<path d="M894.4,147.3 Q904.5,153.7 917.0,161.4"/>
<path d="M884.2,173.8 Q886.3,183.9 887.1,190.9"/>
<path d="M887.1,190.9 Q887.4,197.4 889.4,206.1"/>
<path d="M887.1,190.9 Q884.9,178.8 884.2,173.8"/>
<path d="M889.4,206.1 Q896.0,192.5 906.5,186.6"/>
<path d="M886.7,233.6 Q901.2,235.8 909.4,236.9"/>
<path d="M886.7,233.6 Q889.4,217.3 889.4,206.1"/>
<path d="M894.2,263.8 Q888.6,274.7 881.8,278.6"/>
<path d="M879.3,299.9 Q872.9,312.1 861.3,318.2"/>
<path d="M891.7,329.4 Q897.8,336.6 909.8,343.6"/>
<path d="M885.6,342.1 Q887.5,339.6 891.7,329.4"/>
<path d="M885.6,342.1 Q895.2,340.7 909.8,343.6"/>
<path d="M906.4,126.9 Q909.1,134.3 919.7,141.1"/>
<path d="M906.4,126.9 Q900.4,138.3 894.4,147.3"/>
<path d="M917.0,161.4 Q927.5,168.5 940.5,169.5"/>
<path d="M906.5,186.6 Q898.5,190.3 887.1,190.9"/>
<path d="M915.4,210.2 Q903.4,208.0 889.4,206.1"/>
<path d="M909.4,236.9 Q896.3,237.3 886.7,233.6"/>
<path d="M909.4,236.9 Q910.4,222.1 915.4,210.2"/>
<path d="M904.9,260.7 Q899.7,259.2 894.2,263.8"/>
<path d="M904.9,260.7 Q901.6,266.7 905.2,279.2"/>
<path d="M905.2,279.2 Q906.0,289.8 907.5,296.2"/>
<path d="M905.2,279.2 Q902.6,274.4 894.2,263.8"/>
<path d="M907.5,296.2 Q904.4,287.7 905.2,279.2"/>
<path d="M912.5,322.0 Q903.8,324.3 891.7,329.4"/>
<path d="M912.5,322.0 Q924.8,318.2 932.9,309.0"/>
<path d="M932.7,149.1 Q923.9,156.6 917.0,161.4"/>
<path d="M932.7,149.1 Q934.1,155.4 940.5,169.5"/>
<path d="M944.3,192.8 Q945.9,200.1 944.4,208.7"/>
<path d="M944.4,208.7 Q955.0,198.3 962.3,194.0"/>
<path d="M942.3,240.0 Q942.1,248.9 945.2,254.1"/>
<path d="M942.3,240.0 Q942.0,220.6 944.4,208.7"/>
<path d="M945.2,254.1 Q957.3,254.9 972.4,250.8"/>
<path d="M934.7,285.8 Q920.2,291.9 907.5,296.2"/>
<path d="M945.0,317.1 Q951.9,307.4 964.1,304.0"/>
<path d="M933.3,348.6 Q945.0,340.1 956.9,337.6"/>
<path d="M933.3,348.6 Q935.3,333.4 945.0,317.1"/>
<path d="M959.7,118.6 Q950.1,117.2 938.5,119.6"/>
<path d="M959.7,118.6 Q964.7,131.1 970.0,145.7"/>
<path d="M959.7,118.6 Q942.6,130.3 932.7,149.1"/>
<path d="M970.0,145.7 Q961.5,129.6 959.7,118.6"/>
<path d="M969.2,163.0 Q957.8,166.1 940.5,169.5"/>
<path d="M962.3,194.0 Q953.7,202.6 944.4,208.7"/>
<path d="M955.3,208.2 Q962.3,204.0 962.3,194.0"/>
<path d="M972.4,250.8 Q966.1,243.6 967.3,241.6"/>
<path d="M972.4,250.8 Q955.4,251.3 945.2,254.1"/>
<path d="M964.1,283.1 Q964.2,289.6 964.1,304.0"/>
<path d="M964.1,283.1 Q953.1,280.5 934.7,285.8"/>
<path d="M956.9,337.6 Q948.7,342.3 933.3,348.6"/>
</g>
<g fill="none" stroke="#fafaf8" stroke-width=".7" opacity=".8" clip-path="url(#lc)">
<path d="M474.9,194.0 L470.0,195.5"/>
<path d="M471.8,192.1 L474.4,199.2"/>
<path d="M473.8,241.1 L477.7,249.7"/>
<path d="M466.5,196.5 L459.6,198.6"/>
<path d="M460.3,201.1 L455.8,205.8"/>
<path d="M475.8,218.9 L472.5,224.2"/>
<path d="M460.5,185.0 L464.2,192.2"/>
<path d="M458.2,215.2 L460.4,222.1"/>
<path d="M470.9,253.0 L479.8,259.7"/>
<path d="M465.7,236.3 L476.9,240.3"/>
<path d="M651.9,268.5 L658.0,273.5"/>
<path d="M664.1,237.1 L670.4,244.5"/>
<path d="M674.7,242.9 L681.0,247.0"/>
<path d="M676.5,235.9 L673.4,242.9"/>
<path d="M661.3,238.5 L657.3,249.0"/>
<path d="M670.7,255.1 L670.5,264.1"/>
<path d="M638.0,263.5 L633.4,270.3"/>
<path d="M662.3,246.8 L664.6,253.0"/>
<path d="M659.4,252.9 L659.2,258.1"/>
<path d="M660.6,247.9 L658.0,256.6"/>
<path d="M791.8,269.6 L793.0,281.5"/>
<path d="M785.6,273.5 L777.5,282.3"/>
<path d="M774.9,286.8 L785.9,291.4"/>
<path d="M777.7,271.6 L769.3,276.2"/>
<path d="M792.0,285.9 L785.1,291.0"/>
<path d="M793.8,267.6 L784.6,271.5"/>
<path d="M770.0,285.4 L771.3,294.0"/>
<path d="M789.7,270.7 L795.8,278.0"/>
<path d="M764.4,279.3 L757.7,284.5"/>
<path d="M769.7,285.2 L760.4,289.8"/>
<path d="M916.5,244.7 L911.6,248.3"/>
<path d="M911.0,225.4 L918.3,226.3"/>
<path d="M925.9,243.0 L931.8,245.3"/>
<path d="M911.7,243.4 L907.6,253.9"/>
<path d="M902.2,246.7 L909.6,252.4"/>
<path d="M926.3,240.5 L934.2,246.1"/>
<path d="M912.9,223.4 L916.4,229.7"/>
<path d="M918.9,229.7 L915.8,239.0"/>
<path d="M905.4,226.1 L900.7,232.9"/>
<path d="M903.9,225.8 L894.8,227.5"/>
<path d="M925.2,188.9 L915.3,189.1"/>
<path d="M932.7,192.2 L937.1,198.7"/>
<path d="M920.9,197.6 L923.4,208.1"/>
<path d="M926.2,194.1 L925.9,205.7"/>
<path d="M924.9,199.1 L931.6,205.2"/>
<path d="M923.7,202.5 L930.5,211.1"/>
<path d="M931.5,194.1 L924.0,195.7"/>
<path d="M932.9,197.0 L933.7,202.4"/>
<path d="M926.4,190.6 L928.5,202.1"/>
<path d="M923.9,198.9 L920.4,204.7"/>
<path d="M840.9,262.1 L834.5,264.3"/>
<path d="M841.1,265.5 L831.8,271.3"/>
<path d="M845.2,268.7 L855.9,272.2"/>
<path d="M833.1,265.8 L837.0,275.1"/>
<path d="M847.1,265.5 L836.0,269.2"/>
<path d="M831.6,270.1 L832.3,277.6"/>
<path d="M842.2,265.1 L837.4,273.0"/>
<path d="M854.3,275.6 L846.5,275.8"/>
<path d="M850.9,270.4 L843.8,280.1"/>
<path d="M832.6,267.4 L835.5,276.5"/>
<path d="M468.2,275.8 L474.2,280.5"/>
<path d="M466.4,266.3 L462.6,270.4"/>
<path d="M467.0,270.4 L463.2,279.8"/>
<path d="M469.1,273.0 L462.2,280.8"/>
<path d="M465.9,267.5 L476.9,268.0"/>
<path d="M485.7,274.3 L493.1,274.9"/>
<path d="M475.9,268.5 L485.7,272.1"/>
<path d="M470.2,268.1 L478.5,271.5"/>
<path d="M466.1,261.4 L465.8,268.5"/>
<path d="M481.7,263.9 L483.1,269.1"/>
</g>
<g fill="none" stroke="#f7f7f4" stroke-width=".8" opacity=".9" clip-path="url(#lc)">
<path d="M458.0,177.9 L476.2,178.2"/>
<path d="M458.0,185.7 L478.6,183.4"/>
<path d="M458.0,191.3 L482.5,193.9"/>
<path d="M458.0,198.8 L479.2,199.4"/>
<path d="M458.0,206.9 L482.6,205.7"/>
<path d="M458.0,212.3 L474.1,214.3"/>
<path d="M458.0,220.4 L481.3,218.6"/>
<path d="M458.0,226.1 L479.3,225.4"/>
<path d="M458.0,234.9 L477.0,234.6"/>
<path d="M458.0,240.1 L482.9,240.7"/>
<path d="M458.0,247.5 L478.0,246.4"/>
<path d="M460.8,254.7 L489.2,255.0"/>
<path d="M464.6,262.8 L489.3,263.8"/>
<path d="M468.4,269.0 L491.3,270.6"/>
<path d="M472.3,275.6 L492.3,277.0"/>
<path d="M476.1,282.7 L493.8,282.7"/>
<path d="M480.0,289.7 L498.8,289.7"/>
<path d="M461.0,176.5 L463.0,261.0"/>
<path d="M468.0,172.6 L468.3,270.6"/>
<path d="M475.0,176.0 L472.6,264.5"/>
<path d="M482.0,175.7 L481.9,266.3"/>
<path d="M489.0,174.3 L488.9,275.0"/>
<path d="M496.0,172.1 L498.8,268.1"/>
</g>
<polyline points="455.6,187.5 455.3,207 454.8,221.9 454.1,233.7 454.1,245.6 459.3,254.4 463.7,263.3 468.9,272.2 478.5,277.4 488.9,281.9 499.3,285.3 508.1,284.8 516.3,283.3 517.8,278.9 523,276.7 534.8,275.9 538.5,273.7 546.7,271.5 543.7,268.5 537.8,263.3 536.3,253 532.6,241.1 528.9,235.2 523.7,230 523,218.9 525.2,211.5 524.4,199.6 521.5,189.3 518.5,187.8 506.7,197.4 502.2,195.2 491.9,193.7 484.4,196.4 477,201.1 471.9,198.1 467.4,196.7 464.4,195.2 463.7,193" fill="none" stroke="#d0234c" stroke-width="2.4" stroke-linejoin="round" stroke-linecap="round"/>
<circle cx="461.9" cy="188.5" r="4.6" fill="#fff" stroke="#aaa" stroke-width=".5"/>
<text x="461.9" y="191.2" font-size="7" text-anchor="middle" fill="#555" font-family="Liberation Sans">1</text>
<rect x="525.5" y="192" width="23.0" height="10" rx="1" fill="#6e9b2c"/><text x="537" y="200" font-size="7.6" font-weight="bold" text-anchor="middle" fill="#f5e04a" font-family="Liberation Sans">A585</text>
<rect x="583.0" y="215" width="18.0" height="10" rx="1" fill="#5b74d6"/><text x="592" y="223" font-size="7.6" font-weight="bold" text-anchor="middle" fill="#fff" font-family="Liberation Sans">M55</text>
<rect x="656.5" y="218" width="13.0" height="10" rx="1" fill="#5b74d6"/><text x="663" y="226" font-size="7.6" font-weight="bold" text-anchor="middle" fill="#fff" font-family="Liberation Sans">M6</text>
<rect x="579.5" y="251" width="23.0" height="10" rx="1" fill="#6e9b2c"/><text x="591" y="259" font-size="7.6" font-weight="bold" text-anchor="middle" fill="#f5e04a" font-family="Liberation Sans">A583</text>
<rect x="610.7" y="292.4" width="18.0" height="10" rx="1" fill="#6e9b2c"/><text x="619.7" y="300.4" font-size="7.6" font-weight="bold" text-anchor="middle" fill="#f5e04a" font-family="Liberation Sans">A59</text>
<rect x="805.0" y="199" width="18.0" height="10" rx="1" fill="#6e9b2c"/><text x="814" y="207" font-size="7.6" font-weight="bold" text-anchor="middle" fill="#f5e04a" font-family="Liberation Sans">A59</text>
<rect x="838.9" y="212.5" width="23.0" height="10" rx="1" fill="#6e9b2c"/><text x="850.4" y="220.5" font-size="7.6" font-weight="bold" text-anchor="middle" fill="#f5e04a" font-family="Liberation Sans">A671</text>
<rect x="824.2" y="232.4" width="23.0" height="10" rx="1" fill="#6e9b2c"/><text x="835.7" y="240.4" font-size="7.6" font-weight="bold" text-anchor="middle" fill="#f5e04a" font-family="Liberation Sans">A680</text>
<rect x="835.0" y="243" width="18.0" height="10" rx="1" fill="#5b74d6"/><text x="844" y="251" font-size="7.6" font-weight="bold" text-anchor="middle" fill="#fff" font-family="Liberation Sans">M65</text>
<rect x="740.5" y="253.5" width="23.0" height="10" rx="1" fill="#6e9b2c"/><text x="752" y="261.5" font-size="7.6" font-weight="bold" text-anchor="middle" fill="#f5e04a" font-family="Liberation Sans">A677</text>
<rect x="720.0" y="299" width="18.0" height="10" rx="1" fill="#5b74d6"/><text x="729" y="307" font-size="7.6" font-weight="bold" text-anchor="middle" fill="#fff" font-family="Liberation Sans">M65</text>
<rect x="947.5" y="278" width="23.0" height="10" rx="1" fill="#6e9b2c"/><text x="959" y="286" font-size="7.6" font-weight="bold" text-anchor="middle" fill="#f5e04a" font-family="Liberation Sans">A646</text>
<g font-family="Liberation Sans" fill="#555" font-size="8.6" text-anchor="middle" style="paint-order:stroke" stroke="#eef0ea" stroke-width="1.6" stroke-opacity=".9">
<text x="616" y="128">Garstang</text>
<text x="495" y="185">Poulton-le-Fylde</text>
<text x="535" y="250">Wrea Green</text>
<text x="474" y="265">Lytham</text>
<text x="475" y="274">Saint Annes</text>
<text x="642" y="216">Broughton</text>
<text x="649" y="239">Fulwood</text>
<text x="636" y="275">Penwortham</text>
<text x="679" y="296">Bamber Bridge</text>
<text x="659" y="325">Leyland</text>
<text x="677" y="335">Buckshaw</text>
<text x="675" y="344">Village</text>
<text x="580" y="340">Tarleton</text>
<text x="728" y="145">Chipping</text>
<text x="818" y="142">Waddington</text>
<text x="866" y="136">Downham</text>
<text x="831" y="159">Clitheroe</text>
<text x="713" y="196">Longridge</text>
<text x="751" y="214">Ribchester</text>
<text x="792" y="225">Langho</text>
<text x="928" y="193">Nelson</text>
<text x="813" y="257">Rishton</text>
<text x="843" y="271">Accrington</text>
<text x="938" y="316">Bacup</text>
<text x="882" y="323">Rawtenstall</text>
<text x="788" y="328">Darwen</text>
</g>
<g font-family="Liberation Sans" fill="#4a4a4a" font-size="11.5" text-anchor="middle" style="paint-order:stroke" stroke="#eef0ea" stroke-width="1.6" stroke-opacity=".9">
<text x="468" y="212">Blackpool</text>
<text x="655" y="263">Preston</text>
<text x="777" y="277">Blackburn</text>
<text x="917" y="238">Burnley</text>
</g>
<text x="466" y="149" font-family="Liberation Sans" font-size="7.2" fill="#777" text-anchor="middle" letter-spacing=".2">CLEVELEYS</text>
<rect x="686" y="343.5" width="296" height="9.5" fill="#f5f5f5" fill-opacity=".45"/>
<text x="688.7" y="350.3" font-family="Liberation Sans" font-size="7.7" fill="#444">Map data ©2018 Google</text>
<text x="786" y="350.3" font-family="Liberation Sans" font-size="7.7" fill="#444">5 km</text><rect x="805" y="346" width="47" height="3" fill="none" stroke="#555" stroke-width=".8"/>
<text x="859" y="350.3" font-family="Liberation Sans" font-size="7.7" fill="#444">Terms of Use</text><text x="912" y="350.3" font-family="Liberation Sans" font-size="7.7" fill="#444">Report a map error</text>
<rect x="20" y="320" width="962" height="33" fill="#000" fill-opacity=".41"/>
<text x="24" y="349" font-family="Liberation Sans" font-size="13" fill="#9a8f7e" opacity=".8">Google</text>
<text x="28" y="340" font-family="Liberation Sans" font-size="11" font-weight="bold" fill="#fff">Like the route?</text>
<text x="113" y="340" font-family="Liberation Sans" font-size="11" fill="#fff">Add it to your Favorites.</text>
<rect x="35" y="133" width="23" height="47" rx="2" fill="#fff"/>
<rect x="40.8" y="143" width="10.8" height="2.8" fill="#222"/><rect x="44.8" y="139" width="2.8" height="10.8" fill="#222"/>
<rect x="40" y="156" width="12" height=".6" fill="#ddd"/>
<rect x="40.8" y="166.7" width="10.8" height="2.8" fill="#222"/>
<rect x="952" y="129" width="19" height="18" rx="2" fill="#fff" opacity=".9"/>
<rect x="944.2" y="133" width="22.7" height="22.2" rx="2" fill="#fff"/>
<use href="#gear" x="955.5" y="144"/>
<rect x="944.2" y="164" width="22.7" height="22.3" rx="2" fill="#fff"/>
<use href="#expand" x="955.5" y="175.2"/>
<rect x="780" y="325.5" width="167" height="23" rx="2" fill="#fff"/>
<path d="M796.3,329.5 L798.2,334 L803,334.3 L799.3,337.4 L800.5,342.1 L796.3,339.5 L792.1,342.1 L793.3,337.4 L789.6,334.3 L794.4,334 Z" fill="none" stroke="#333" stroke-width="1.1" stroke-linejoin="round"/>
<text x="807.8" y="341" font-family="Liberation Sans" font-size="11" fill="#444">Add route to your Favorites</text>
<rect x="951" y="325.5" width="23" height="23" rx="2" fill="#fff"/>
<path d="M958.8,333.3 L966.2,340.7 M966.2,333.3 L958.8,340.7" stroke="#222" stroke-width="2.2"/>
</svg>

<!-- chart -->
<svg class="abs" style="left:0;top:370px" width="1024" height="300" viewBox="0 370 1024 300">
<line x1="232.5" y1="393" x2="232.5" y2="617" stroke="#d9d9d9" stroke-width="1"/>
<line x1="406.5" y1="393" x2="406.5" y2="617" stroke="#d9d9d9" stroke-width="1"/>
<line x1="580.5" y1="393" x2="580.5" y2="617" stroke="#d9d9d9" stroke-width="1"/>
<line x1="755.5" y1="393" x2="755.5" y2="617" stroke="#d9d9d9" stroke-width="1"/>
<rect x="58.5" y="400" width="741" height="15.5" fill="#e8abc3"/>
<rect x="58.5" y="400" width="11.5" height="15.5" fill="#d81b5c"/>
<rect x="58.5" y="416.2" width="741" height="15.4" fill="#f3dfa9"/>
<rect x="58.5" y="416.2" width="11.5" height="15.4" fill="#f5b314"/>
<rect x="58.5" y="432.5" width="741" height="14.5" fill="#c9e4b1"/>
<rect x="58.5" y="432.5" width="11.5" height="14.5" fill="#6ec71c"/>
<rect x="58.5" y="448" width="741" height="15.3" fill="#bee2f1"/>
<rect x="58.5" y="448" width="11.5" height="15.3" fill="#50c2ef"/>
<rect x="58.5" y="464" width="741" height="15.5" fill="#e2e3e5"/>
<rect x="58.5" y="464" width="11.5" height="15.5" fill="#bdc5cc"/>
<line x1="232.5" y1="400" x2="232.5" y2="479.5" stroke="#c4c4cc" stroke-width="1" stroke-dasharray="1 1" opacity=".5"/>
<line x1="406.5" y1="400" x2="406.5" y2="479.5" stroke="#c4c4cc" stroke-width="1" stroke-dasharray="1 1" opacity=".5"/>
<line x1="580.5" y1="400" x2="580.5" y2="479.5" stroke="#c4c4cc" stroke-width="1" stroke-dasharray="1 1" opacity=".5"/>
<line x1="755.5" y1="400" x2="755.5" y2="479.5" stroke="#c4c4cc" stroke-width="1" stroke-dasharray="1 1" opacity=".5"/>
<rect x="66" y="397" width="47" height="16" fill="#fff" fill-opacity=".7"/>
<rect x="65" y="498" width="61" height="16" fill="#fff" fill-opacity=".7"/>
<rect x="65.5" y="560" width="52" height="16" fill="#fff" fill-opacity=".7"/>
<polyline points="58.5,484.5 58.9,474.7 60.9,479.6 63.8,469.8 67.7,462.0 74.5,462.0 76.5,462.6 79.4,465.9 81.4,462.0 86.2,459.6 87.8,462.0 88.2,474.7 90.2,466.9 92.1,470.8 95.0,482.5 98.0,485.4 100.3,484.5 101.9,471.8 103.8,460.0 107.7,455.2 112.6,450.7 116.5,451.2 119.0,455.2 121.4,464.0 124.3,460.0 128.2,455.7 131.2,456.0 134.1,452.2 137.0,445.0 140.9,445.0 143.9,443.4 146.8,444.4 151.7,438.5 155.6,435.2 160.5,435.6 163.4,439.5 168.3,440.5 172.2,441.5 175.1,445.0 178.0,443.8 182.9,442.5 184.9,445.4 189.8,445.4 192.7,452.2 195.6,453.2 198.9,457.1 203.4,441.5 209.3,426.4 215.2,430.7 221.0,438.5 225.3,447.9 228.8,442.5 232.7,438.0 237.6,436.6 242.5,438.5 244.0,447.3 245.0,463.4 247.4,445.4 251.3,431.7 252.3,431.1 257.8,433.4 265.6,438.9 275.4,435.8 280.3,439.7 291.0,439.3 297.9,435.0 304.7,437.3 310.5,441.6 313.5,438.9 317.4,441.2 327.1,436.4 335.9,436.4 338.9,440.3 340.8,435.0 344.7,434.4 347.7,430.1 352.5,432.5 355.5,436.4 357.0,442.2 360.4,442.2 366.2,438.3 371.1,439.3 374.0,435.4 380.9,435.4 385.7,439.3 390.6,439.7 394.5,441.2 400.4,441.8 406.2,445.7 410.2,440.3 413.1,446.1 417.0,443.2 421.9,444.2 425.8,441.2 428.7,448.7 432.6,443.2 437.1,439.3 440.4,441.2 447.3,441.2 448.9,440.9 452.8,435.0 457.7,439.3 459.1,441.2 460.0,467.0 464.5,452.0 470.4,440.3 474.3,441.2 478.2,433.8 482.1,438.3 486.0,439.7 489.9,443.2 493.8,450.0 499.7,439.7 503.6,439.7 507.1,441.6 511.4,436.4 514.9,443.2 518.2,438.9 522.1,446.1 525.1,445.5 529.0,441.2 532.9,445.2 536.8,445.2 539.7,445.5 542.7,443.6 546.6,449.0 550.5,441.2 554.4,447.1 558.3,445.2 561.6,449.5 565.7,439.7 569.0,440.3 572.9,445.5 576.8,439.7 581.7,443.2 585.6,445.2 589.5,444.2 593.4,445.5 599.3,444.8 601.2,443.2 605.2,444.2 608.1,442.8 611.0,440.9 615.9,441.6 619.8,440.3 623.7,443.2 627.6,444.2 631.5,437.0 635.4,439.3 638.4,438.3 640.0,439.5 642.5,442.9 646.6,439.0 653.3,431.2 655.8,431.6 659.9,436.9 664.1,433.6 669.9,439.0 674.9,441.2 678.2,440.7 681.5,435.7 684.8,424.6 688.1,430.8 691.5,436.9 693.1,436.2 695.6,429.6 697.3,431.6 700.6,431.2 705.6,440.7 708.9,440.7 712.2,437.4 718.0,439.0 721.3,431.6 723.8,429.6 726.3,429.9 729.6,435.7 732.1,436.2 735.5,434.1 737.9,431.2 741.3,432.4 747.1,440.2 750.4,440.7 754.5,441.2 757.0,445.7 759.5,444.0 762.5,436.2 767.8,436.9 770.3,438.2 772.8,436.2 781.1,446.2 784.4,439.9 786.9,431.2 789.4,427.4 793.5,429.6 797.7,435.7 799.4,437.4" fill="none" stroke="#d9787f" stroke-width="1.5" stroke-opacity=".9" stroke-linejoin="round"/>
<polyline points="58.9,547.6 60.9,547.6 64.8,529.0 67.7,531.0 71.6,525.2 78.0,524.2 78.8,530.0 81.4,531.0 82.3,533.4 84.7,530.0 85.9,531.0 87.2,547.6 89.8,526.1 93.1,524.2 97.0,515.4 98.9,519.3 100.9,515.4 105.8,517.0 110.7,514.4 115.5,515.4 118.5,511.1 120.4,513.0 123.0,521.2 125.3,514.4 127.7,519.7 132.1,511.5 135.1,511.9 137.0,514.4 140.9,511.1 143.9,510.5 145.8,513.4 152.7,508.0 158.5,509.5 162.4,519.3 166.3,513.0 172.2,510.5 175.1,509.5 182.0,508.6 183.9,509.5 189.8,510.1 191.7,535.9 193.7,524.2 195.6,523.2 198.0,547.6 200.5,518.3 206.4,501.7 211.2,504.6 217.1,510.1 221.0,509.5 223.4,547.6 225.9,519.3 232.7,509.5 239.6,510.5 242.5,515.4 244.0,547.6 247.4,515.4 250.3,511.9 252.0,512.5 256.8,517.3 261.7,517.3 266.6,513.0 275.4,519.3 288.1,517.3 291.0,520.3 296.9,522.8 300.8,520.9 303.7,518.3 308.6,518.9 312.5,517.0 315.4,519.7 320.3,518.3 325.2,518.9 330.1,521.2 333.0,518.3 335.9,518.3 337.5,523.2 339.8,518.3 344.7,518.9 348.6,517.9 353.5,519.7 356.4,547.6 359.0,525.2 366.2,517.0 369.1,518.3 372.1,517.0 377.0,519.3 380.9,519.7 384.8,520.9 388.7,519.7 394.5,522.2 401.4,520.9 408.2,522.8 412.1,518.9 415.0,518.9 419.9,522.2 425.8,526.1 427.7,547.6 429.7,525.2 432.6,522.2 437.5,515.4 443.4,513.4 445.0,514.4 446.0,519.3 448.9,520.3 452.8,515.0 455.7,517.3 459.6,547.6 463.0,520.3 465.5,520.9 468.0,508.0 470.4,509.5 473.3,522.8 479.2,523.6 484.1,527.1 486.4,519.7 490.9,518.9 492.9,525.5 495.8,514.4 498.7,524.2 501.6,515.4 504.6,515.0 509.5,523.6 512.4,518.3 514.3,519.3 517.7,528.7 522.7,517.0 526.1,523.2 530.0,513.4 534.8,514.4 537.8,517.3 541.7,521.2 544.6,511.5 547.5,517.3 550.5,531.0 554.4,506.6 556.3,515.0 559.3,514.4 560.8,536.5 562.2,524.2 565.1,526.1 570.0,521.2 574.9,526.7 577.8,525.2 582.7,511.9 587.6,521.6 590.5,515.4 595.4,512.5 599.3,519.3 601.2,509.5 606.1,514.4 608.1,521.2 616.9,517.0 620.8,520.3 624.3,515.0 626.6,521.6 629.6,513.4 633.5,518.3 636.8,527.1 641.3,510.5 642.5,510.8 645.8,512.4 649.6,503.0 656.6,514.9 658.3,516.6 660.8,522.4 662.7,526.9 665.2,510.2 669.0,524.5 671.5,524.0 674.9,512.9 678.2,515.7 681.2,529.5 683.2,525.7 687.3,514.6 689.8,516.6 693.1,529.0 696.1,523.2 699.8,529.0 705.6,505.8 708.1,509.1 712.2,520.2 714.7,518.6 724.7,527.8 728.8,507.9 731.0,524.0 733.0,524.9 734.3,535.7 736.3,520.7 740.4,522.4 744.6,514.9 747.1,517.4 747.9,522.4 749.6,520.7 752.9,525.7 754.9,525.7 756.2,547.8 758.2,524.0 762.8,521.9 765.3,525.7 767.8,524.0 771.1,525.2 775.3,512.4 777.8,514.9 780.3,528.5 782.8,514.6 784.4,521.5 786.1,520.7 788.1,526.5 792.4,521.5 796.9,529.8 799.4,524.9 800.0,540.0" fill="none" stroke="#6587e2" stroke-width="1.4" stroke-linejoin="round"/>
<polygon points="58.9,610 58.9,581.4 69.6,581.4 72.6,584.3 81.4,584.3 85.3,578.8 91.1,579.4 94.1,582.3 97.0,590.5 100.9,595.0 104.8,593.7 111.6,593.7 116.5,591.1 121.0,599.0 123.4,595.6 128.2,601.9 132.1,607.3 136.0,605.4 142.9,606.2 144.5,603.8 145.8,606.2 150.7,606.2 156.6,608.7 162.0,606.2 193.7,606.2 195.6,607.7 197.6,606.2 203.4,606.2 205.0,609.3 207.3,606.2 211.2,608.1 216.1,604.8 223.0,604.8 225.9,606.2 230.8,606.2 233.7,603.8 236.6,604.8 245.4,604.8 251.3,602.3 253.9,602.3 257.8,601.5 264.6,601.5 269.5,599.9 275.4,599.5 277.3,600.3 287.1,600.9 290.0,602.3 292.0,600.9 293.0,602.9 296.9,599.5 301.2,598.9 305.7,600.9 310.5,601.9 316.0,606.2 316.4,608.7 317.4,604.8 327.1,604.8 328.1,605.8 335.9,604.2 343.8,606.2 347.7,604.8 349.6,606.2 351.6,603.4 353.5,606.2 358.4,606.2 362.3,603.8 368.2,607.3 376.0,607.3 378.9,603.4 382.8,604.8 386.7,603.4 389.6,604.8 401.4,604.8 404.3,602.9 409.2,600.9 413.1,601.9 420.0,601.5 421.9,600.9 424.8,600.3 426.8,596.4 430.7,595.0 434.6,593.7 438.5,593.7 440.4,596.4 444.3,599.9 449.9,590.5 455.7,592.1 459.1,584.3 461.6,586.6 465.5,585.9 468.4,595.6 472.3,596.0 476.2,585.9 480.2,583.3 484.1,577.5 487.0,578.4 491.9,577.5 494.8,581.4 496.8,581.4 499.7,574.9 501.6,576.9 505.5,579.4 510.4,570.2 514.3,574.9 518.2,567.7 523.1,570.2 527.0,563.8 529.4,563.8 531.9,570.6 535.8,572.2 538.8,574.1 541.7,571.6 546.2,584.3 548.5,582.0 551.4,575.5 554.4,586.2 560.2,589.8 566.1,581.4 573.9,581.4 577.8,575.5 580.7,578.0 583.7,586.2 586.6,584.3 588.6,582.3 590.5,585.9 595.4,590.2 599.3,590.2 602.2,596.4 605.2,598.0 608.1,593.7 616.9,593.7 618.8,591.1 622.7,591.1 625.7,594.1 630.5,592.5 633.5,589.2 637.4,584.3 640.0,584.5 642.5,589.9 645.8,592.4 647.5,594.8 651.6,606.8 654.9,610.1 658.3,609.8 662.4,600.6 665.7,607.8 670.7,602.3 674.0,605.6 675.7,604.5 677.8,605.6 682.3,588.5 685.2,588.5 688.1,596.5 690.6,597.8 694.0,588.5 696.4,588.2 698.9,584.5 701.8,584.5 706.4,599.0 708.9,600.6 712.2,599.0 714.7,599.5 717.2,600.6 720.5,594.0 723.0,592.4 725.0,588.5 727.2,590.7 728.8,597.3 733.0,589.0 735.5,588.2 737.9,589.5 742.1,589.9 745.4,596.5 748.7,595.2 751.2,596.5 753.7,593.5 759.5,594.5 763.7,593.5 767.0,592.4 769.5,592.4 771.1,589.0 776.1,598.2 779.4,596.8 783.6,598.2 788.1,588.5 791.9,587.4 796.9,582.4 799.0,581.9 799,610" fill="#dfdfdf"/>
<polyline points="58.9,581.4 69.6,581.4 72.6,584.3 81.4,584.3 85.3,578.8 91.1,579.4 94.1,582.3 97.0,590.5 100.9,595.0 104.8,593.7 111.6,593.7 116.5,591.1 121.0,599.0 123.4,595.6 128.2,601.9 132.1,607.3 136.0,605.4 142.9,606.2 144.5,603.8 145.8,606.2 150.7,606.2 156.6,608.7 162.0,606.2 193.7,606.2 195.6,607.7 197.6,606.2 203.4,606.2 205.0,609.3 207.3,606.2 211.2,608.1 216.1,604.8 223.0,604.8 225.9,606.2 230.8,606.2 233.7,603.8 236.6,604.8 245.4,604.8 251.3,602.3 253.9,602.3 257.8,601.5 264.6,601.5 269.5,599.9 275.4,599.5 277.3,600.3 287.1,600.9 290.0,602.3 292.0,600.9 293.0,602.9 296.9,599.5 301.2,598.9 305.7,600.9 310.5,601.9 316.0,606.2 316.4,608.7 317.4,604.8 327.1,604.8 328.1,605.8 335.9,604.2 343.8,606.2 347.7,604.8 349.6,606.2 351.6,603.4 353.5,606.2 358.4,606.2 362.3,603.8 368.2,607.3 376.0,607.3 378.9,603.4 382.8,604.8 386.7,603.4 389.6,604.8 401.4,604.8 404.3,602.9 409.2,600.9 413.1,601.9 420.0,601.5 421.9,600.9 424.8,600.3 426.8,596.4 430.7,595.0 434.6,593.7 438.5,593.7 440.4,596.4 444.3,599.9 449.9,590.5 455.7,592.1 459.1,584.3 461.6,586.6 465.5,585.9 468.4,595.6 472.3,596.0 476.2,585.9 480.2,583.3 484.1,577.5 487.0,578.4 491.9,577.5 494.8,581.4 496.8,581.4 499.7,574.9 501.6,576.9 505.5,579.4 510.4,570.2 514.3,574.9 518.2,567.7 523.1,570.2 527.0,563.8 529.4,563.8 531.9,570.6 535.8,572.2 538.8,574.1 541.7,571.6 546.2,584.3 548.5,582.0 551.4,575.5 554.4,586.2 560.2,589.8 566.1,581.4 573.9,581.4 577.8,575.5 580.7,578.0 583.7,586.2 586.6,584.3 588.6,582.3 590.5,585.9 595.4,590.2 599.3,590.2 602.2,596.4 605.2,598.0 608.1,593.7 616.9,593.7 618.8,591.1 622.7,591.1 625.7,594.1 630.5,592.5 633.5,589.2 637.4,584.3 640.0,584.5 642.5,589.9 645.8,592.4 647.5,594.8 651.6,606.8 654.9,610.1 658.3,609.8 662.4,600.6 665.7,607.8 670.7,602.3 674.0,605.6 675.7,604.5 677.8,605.6 682.3,588.5 685.2,588.5 688.1,596.5 690.6,597.8 694.0,588.5 696.4,588.2 698.9,584.5 701.8,584.5 706.4,599.0 708.9,600.6 712.2,599.0 714.7,599.5 717.2,600.6 720.5,594.0 723.0,592.4 725.0,588.5 727.2,590.7 728.8,597.3 733.0,589.0 735.5,588.2 737.9,589.5 742.1,589.9 745.4,596.5 748.7,595.2 751.2,596.5 753.7,593.5 759.5,594.5 763.7,593.5 767.0,592.4 769.5,592.4 771.1,589.0 776.1,598.2 779.4,596.8 783.6,598.2 788.1,588.5 791.9,587.4 796.9,582.4 799.0,581.9" fill="none" stroke="#999" stroke-width="1.5" stroke-linejoin="round"/>
<line x1="58" y1="393" x2="800" y2="393" stroke="#a8a8a8" stroke-width="1.5"/>
<line x1="35" y1="493.5" x2="800" y2="493.5" stroke="#a8a8a8" stroke-width="1.2"/>
<line x1="35" y1="555.5" x2="800" y2="555.5" stroke="#a8a8a8" stroke-width="1.2"/>
<line x1="35" y1="617.5" x2="800" y2="617.5" stroke="#a8a8a8" stroke-width="1.2"/>
<line x1="58" y1="610.5" x2="800" y2="610.5" stroke="#b8b8b8" stroke-width="1"/>
<line x1="58.5" y1="392" x2="58.5" y2="618" stroke="#a8a8a8" stroke-width="1.2"/>
<line x1="798.5" y1="392" x2="798.5" y2="618" stroke="#3a3a3a" stroke-width="1" stroke-dasharray="1 1"/>
<line x1="800.5" y1="392" x2="800.5" y2="618" stroke="#3a3a3a" stroke-width="1" stroke-dasharray="1 1"/>
<circle cx="797.5" cy="384.4" r="7.3" fill="#fbfbfb" stroke="#e4e4e4" stroke-width=".6"/>
<circle cx="799.6" cy="384.4" r="7.3" fill="#fff" stroke="#e4e4e4" stroke-width=".6"/>
<text x="799.8" y="388" font-size="10" fill="#333" text-anchor="middle" font-family="Liberation Sans">2</text>
<g font-family="Liberation Sans" font-size="9.5" fill="#888">
<text x="69" y="408.5">HR [bpm]</text>
<text x="69" y="509.5">Speed [mph]</text>
<text x="69" y="571.5">Altitude [ft]</text>
</g>
<g font-family="Liberation Sans" font-size="9.2" fill="#8a8a8a" text-anchor="end">
<text x="53.6" y="403.9">184</text>
<text x="53.6" y="419.09999999999997">166</text>
<text x="53.6" y="434.5">147</text>
<text x="53.6" y="449.9">129</text>
<text x="53.6" y="466.9">110</text>
<text x="53.6" y="481.9">92</text>
<text x="53.6" y="503.9">30.3</text>
<text x="53.6" y="550.9">0.0</text>
<text x="53.6" y="566.1">154.1</text>
<text x="53.6" y="612.9">42.6</text>
</g>
<g font-family="Liberation Sans" font-size="9.3" fill="#9a9a9a" text-anchor="middle">
<text x="58" y="633">00:00:00</text>
<text x="233" y="633">00:20:00</text>
<text x="407" y="633">00:40:00</text>
<text x="581" y="633">01:00:00</text>
<text x="756" y="633">01:20:00</text>
</g>
<rect x="58" y="645.4" width="742" height="4.5" fill="#c8102e"/>
<g transform="translate(57.8,0)"><path d="M-7.7,640.4 L0,635.5 L7.7,640.4 L7.7,654.8 L-7.7,654.8 Z" fill="#fff" stroke="#e6e6e6" stroke-width=".6" style="filter:drop-shadow(0 1px 1px rgba(0,0,0,.2))"/><rect x="-3.6" y="643.2" width="1.3" height="7.6" fill="#d4204a"/><rect x="-0.6" y="643.2" width="1.3" height="7.6" fill="#d4204a"/><rect x="2.4" y="643.2" width="1.3" height="7.6" fill="#d4204a"/></g>
<g transform="translate(800.5,0)"><path d="M-7.7,640.4 L0,635.5 L7.7,640.4 L7.7,654.8 L-7.7,654.8 Z" fill="#fff" stroke="#e6e6e6" stroke-width=".6" style="filter:drop-shadow(0 1px 1px rgba(0,0,0,.2))"/><rect x="-3.6" y="643.2" width="1.3" height="7.6" fill="#d4204a"/><rect x="-0.6" y="643.2" width="1.3" height="7.6" fill="#d4204a"/><rect x="2.4" y="643.2" width="1.3" height="7.6" fill="#d4204a"/></g>
</svg>

<!-- zone table -->
<div class="zt" style="top:401px"><div class="n" style="background:#d81b5c">5</div><div class="s"></div><div class="p">0 %</div></div>
<div class="zt" style="top:418px"><div class="n" style="background:#f5b314">4</div><div class="b" style="width:5px;background:#f5b314"></div><div class="s"></div><div class="p">7 %</div></div>
<div class="zt" style="top:435px"><div class="n" style="background:#6ec71c">3</div><div class="b" style="width:54px;background:#6ec71c"></div><div class="s"></div><div class="p">79 %</div></div>
<div class="zt" style="top:452px"><div class="n" style="background:#50c2ef">2</div><div class="b" style="width:7.5px;background:#50c2ef"></div><div class="s"></div><div class="p">11 %</div></div>
<div class="zt" style="top:469px"><div class="n" style="background:#bdc5cc">1</div><div class="s"></div><div class="p">3 %</div></div>
<div class="ztime" style="top:401px">00:00:00</div>
<div class="ztime" style="top:418px">00:06:03</div>
<div class="ztime" style="top:435px">01:06:30</div>
<div class="ztime" style="top:452px">00:09:14</div>
<div class="ztime" style="top:469px">00:02:21</div>
<div class="btn" style="left:947.5px;top:392.3px;width:23.4px;height:23.8px"><svg width="24" height="24" style="position:absolute;left:0;top:0"><use href="#gear" x="11.7" y="12.2"/></svg></div>
<div class="btn" style="left:947.5px;top:423.3px;width:23.4px;height:23.9px"><svg width="24" height="24" style="position:absolute;left:0;top:0"><use href="#expand" x="11.7" y="12.2"/></svg></div>

<!-- laps -->
<div class="abs" style="left:19px;top:678px;width:38px;height:23px;background:#d0102c;border-radius:3px 0 0 3px;color:#fff;font-size:11px;line-height:23px;text-align:center">Laps</div>
<div class="btn" style="left:57px;top:678px;width:98px;height:23px;border-radius:0 3px 3px 0">
<span style="position:absolute;left:7px;top:5px;font-size:11px;color:#444">Split into laps</span>
<svg width="14" height="23" style="position:absolute;left:77px;top:0"><path d="M1,8.5 L12.5,8.5 L6.75,15.5 Z" fill="#222"/></svg>
</div>

<svg class="abs" style="left:0;top:700px" width="1024" height="110" viewBox="0 700 1024 110">
<rect x="19.5" y="709.5" width="963" height="88" fill="none" stroke="#d9d9d9" stroke-width="1"/>
<line x1="53.5" y1="709.5" x2="53.5" y2="797.5" stroke="#d9d9d9" stroke-width="1"/>
<line x1="201.5" y1="709.5" x2="201.5" y2="797.5" stroke="#d9d9d9" stroke-width="1"/>
<line x1="348.5" y1="709.5" x2="348.5" y2="797.5" stroke="#d9d9d9" stroke-width="1"/>
<line x1="495.5" y1="709.5" x2="495.5" y2="797.5" stroke="#d9d9d9" stroke-width="1"/>
<line x1="644.5" y1="709.5" x2="644.5" y2="797.5" stroke="#d9d9d9" stroke-width="1"/>
<line x1="799.5" y1="709.5" x2="799.5" y2="797.5" stroke="#d9d9d9" stroke-width="1"/>
<line x1="882" y1="709.5" x2="882" y2="797.5" stroke="#d9d9d9" stroke-width="1"/>
<line x1="19.5" y1="739" x2="968.5" y2="739" stroke="#d9d9d9" stroke-width="1"/>
<line x1="19.5" y1="768.5" x2="968.5" y2="768.5" stroke="#d9d9d9" stroke-width="1"/>
<rect x="117.5" y="749" width="80" height="9" fill="#fff" stroke="#d3d3d3" stroke-width="1"/>
<rect x="117.5" y="778" width="80" height="9" fill="#ececec" stroke="#d3d3d3" stroke-width="1"/>
<g font-family="Liberation Sans" font-size="11" font-weight="bold" fill="#444">
<text x="28" y="728.3">No.</text>
<text x="62" y="728.3">Duration [hh:mm:ss]</text>
<text x="210" y="728.3">Distance [mi]</text>
<text x="357.5" y="728.3">HR avg [bpm]</text>
<text x="504" y="728.3">Speed avg [mph]</text>
<text x="653.5" y="728.3">Speed max [mph]</text>
<text x="807.6" y="728.3">HR max</text>
</g>
<g font-family="Liberation Sans" font-size="11" fill="#555">
<text x="25" y="757.8">1</text>
<text x="58" y="757.8">01:24:51.0</text>
<text x="207.7" y="757.8">26.51</text>
<text x="355.5" y="757.8">135</text>
<text x="502.5" y="757.8">18.7</text>
<text x="651.5" y="757.8">30.3</text>
<text x="803.3" y="757.8">156</text>
<text x="25" y="786.4">2</text>
<text x="58" y="786.4">00:00:17.0</text>
<text x="207.7" y="786.4">0.02</text>
<text x="355.5" y="786.4">137</text>
<text x="502.5" y="786.4">4.5</text>
<text x="651.5" y="786.4">15.5</text>
<text x="803.3" y="786.4">140</text>
</g>
<path d="M973,719 L975.5,716.3 L978,719 Z" fill="#aaa"/>
<path d="M973,788.5 L975.5,791.2 L978,788.5 Z" fill="#aaa"/>
</svg>
<div class="btn" style="left:900.3px;top:713.3px;width:23.5px;height:23.2px"><svg width="24" height="24" style="position:absolute;left:0;top:0"><path d="M7.5,11.6 L14.5,6.8 L14.5,16.4 Z" fill="#222"/></svg></div>
<div class="btn" style="left:927.1px;top:713.3px;width:22.7px;height:23.2px"><svg width="24" height="24" style="position:absolute;left:0;top:0"><path d="M15,11.6 L8,6.8 L8,16.4 Z" fill="#222"/></svg></div>

<div class="btn" style="left:19px;top:813px;width:88px;height:23px"><span style="position:absolute;left:9px;top:5px;font-size:11px;color:#444">Export session</span></div>
<div class="btn" style="left:111px;top:813px;width:95px;height:23px"><span style="position:absolute;left:8px;top:5px;font-size:11px;color:#444">Remove training</span></div>
</body></html>
